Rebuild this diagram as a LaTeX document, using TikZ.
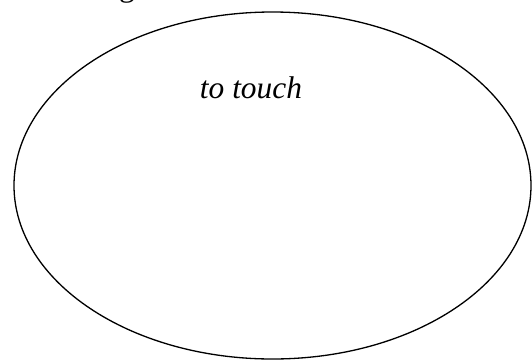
\documentclass[tikz,border=0pt]{standalone}
\usepackage{fontspec}
\setmainfont{Liberation Serif}
\begin{document}
\begin{tikzpicture}[x=0.382pt,y=-0.382pt,
  outline/.style={draw=black,line width=0.5pt},
  label/.style={font=\fontsize{12}{14}\selectfont\itshape,inner sep=0pt,anchor=base},
  cut/.style={font=\fontsize{12}{14}\selectfont,inner sep=0pt,anchor=base}]
\useasboundingbox (0,0) rectangle (532,361);
\clip (0,0) rectangle (532,361);
\node[cut] (frag) at (127,-4) {g};
\draw[outline] (272.5,185.5) ellipse [x radius=258.5, y radius=173.5];
\coordinate (oval) at (272.5,185.5);
\node[label] (text) at (251,98) {to touch};
\end{tikzpicture}
\end{document}
